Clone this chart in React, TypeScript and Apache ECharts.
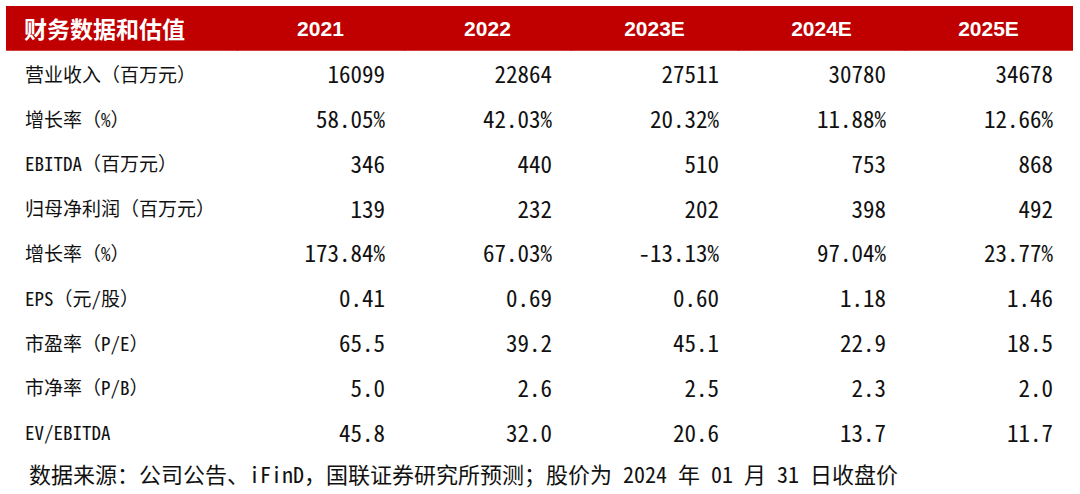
import React, { useEffect, useRef } from "react";
import * as echarts from "echarts";

const headerTitle = "财务数据和估值";
const years = ["2021", "2022", "2023E", "2024E", "2025E"];
const rowLabels = [
  "营业收入（百万元）",
  "增长率（%）",
  "EBITDA（百万元）",
  "归母净利润（百万元）",
  "增长率（%）",
  "EPS（元/股）",
  "市盈率（P/E）",
  "市净率（P/B）",
  "EV/EBITDA",
];
const revenue = [16099, 22864, 27511, 30780, 34678];
const revenueGrowth = [58.05, 42.03, 20.32, 11.88, 12.66];
const ebitda = [346, 440, 510, 753, 868];
const netProfit = [139, 232, 202, 398, 492];
const profitGrowth = [173.84, 67.03, -13.13, 97.04, 23.77];
const eps = [0.41, 0.69, 0.6, 1.18, 1.46];
const pe = [65.5, 39.2, 45.1, 22.9, 18.5];
const pb = [5.0, 2.6, 2.5, 2.3, 2.0];
const evEbitda = [45.8, 32.0, 20.6, 13.7, 11.7];
const footnote =
  "数据来源：公司公告、iFinD，国联证券研究所预测；股价为 2024 年 01 月 31 日收盘价";

const pct = (v: number) => v.toFixed(2) + "%";
const rowValues: string[][] = [
  revenue.map((v) => String(v)),
  revenueGrowth.map(pct),
  ebitda.map((v) => String(v)),
  netProfit.map((v) => String(v)),
  profitGrowth.map(pct),
  eps.map((v) => v.toFixed(2)),
  pe.map((v) => v.toFixed(1)),
  pb.map((v) => v.toFixed(1)),
  evEbitda.map((v) => v.toFixed(1)),
];

const RED = "#C00000";
const TEXT = "#111111";
const MONO = '"Noto Sans Mono CJK SC", "Noto Sans CJK SC", "Liberation Mono", monospace';
const LABEL_X_MIN = -1.383;

export default function App() {
  const ref = useRef<HTMLDivElement>(null);
  useEffect(() => {
    if (!ref.current) return;
    const chart = echarts.init(ref.current, undefined, { renderer: "svg" });
    const rowNames = ["header", ...rowLabels.map((_, i) => "r" + i)];
    // data: [col, rowIndex, text]
    const data: any[] = [];
    data.push([-1, 0, headerTitle]);
    years.forEach((y, c) => data.push([c, 0, y]));
    rowLabels.forEach((lab, r) => {
      data.push([-1, r + 1, lab]);
      rowValues[r].forEach((v, c) => data.push([c, r + 1, v]));
    });

    chart.setOption({
      animation: false,
      backgroundColor: "#ffffff",
      title: {
        text: footnote,
        left: 24,
        top: 456,
        textStyle: {
          fontFamily: MONO,
          fontSize: 22,
          fontWeight: "normal",
          color: TEXT,
          lineHeight: 24,
        },
      },
      grid: { left: 6, right: 8, top: 6, bottom: 40 },
      xAxis: {
        type: "value",
        min: LABEL_X_MIN,
        max: 5,
        show: false,
      },
      yAxis: {
        type: "category",
        data: rowNames,
        inverse: true,
        show: false,
      },
      series: [
        {
          type: "custom",
          coordinateSystem: "cartesian2d",
          data,
          encode: { x: 0, y: 1 },
          renderItem: (params: any, api: any) => {
            const c = api.value(0);
            const r = api.value(1);
            const text = data[params.dataIndex][2];
            const xs = c === -1 ? LABEL_X_MIN : c;
            const xe = c === -1 ? 0 : c + 1;
            const p0 = api.coord([xs, r]);
            const p1 = api.coord([xe, r]);
            const h = api.size([0, 1])[1];
            const left = p0[0];
            const right = p1[0];
            const cy = p0[1];
            const children: any[] = [];
            if (r === 0) {
              children.push({
                type: "rect",
                shape: { x: left, y: cy - h / 2, width: right - left + 1, height: h },
                style: { fill: RED },
              });
              children.push({
                type: "text",
                x: c === -1 ? left + 18 : (left + right) / 2,
                y: cy,
                style: {
                  text,
                  fill: "#ffffff",
                  fontSize: c === -1 ? 23 : 21,
                  fontWeight: "bold",
                  fontFamily:
                    c === -1
                      ? '"Noto Sans CJK SC", sans-serif'
                      : '"Liberation Sans", Arial, sans-serif',
                  align: c === -1 ? "left" : "center",
                  verticalAlign: "middle",
                },
              });
            } else {
              children.push({
                type: "text",
                x: c === -1 ? left + 19 : right - 19,
                y: cy,
                style: {
                  text,
                  fill: TEXT,
                  fontSize: c === -1 ? 19 : 23,
                  fontFamily: MONO,
                  align: c === -1 ? "left" : "right",
                  verticalAlign: "middle",
                },
              });
            }
            return { type: "group", children };
          },
        },
      ],
    });
    return () => chart.dispose();
  }, []);
  return (
    <div
      ref={ref}
      style={{ position: "fixed", left: 0, top: 0, width: 1080, height: 494 }}
    />
  );
}
